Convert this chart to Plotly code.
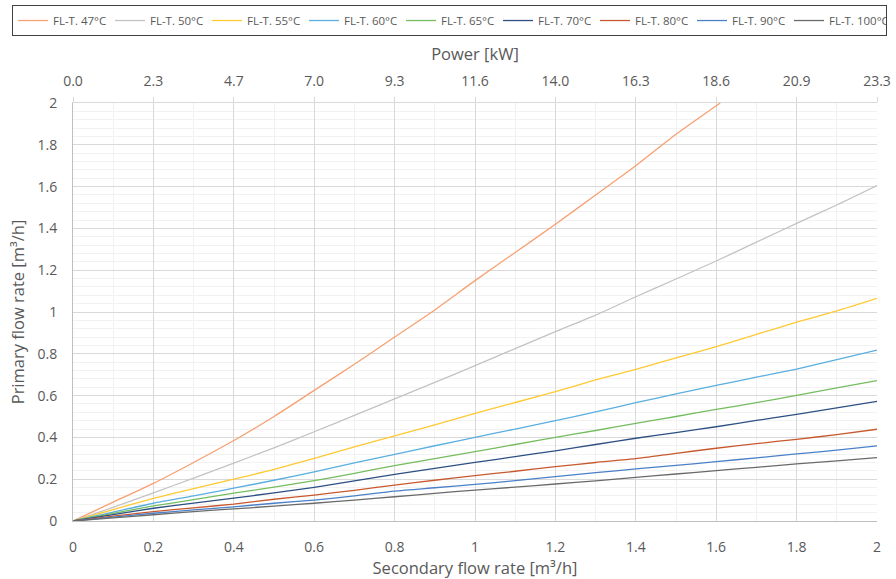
import plotly.graph_objects as go

# secondary flow rate [m3/h]
flow = [0.0, 0.1, 0.2, 0.3, 0.4, 0.5, 0.6, 0.7, 0.8, 0.9, 1.0,
        1.1, 1.2, 1.3, 1.4, 1.5, 1.6, 1.7, 1.8, 1.9, 2.0]

# primary flow rate [m3/h] per flow temperature
t47_x = [0.0, 0.1, 0.2, 0.3, 0.4, 0.5, 0.6, 0.7, 0.8, 0.9, 1.0,
         1.1, 1.2, 1.3, 1.4, 1.5, 1.61]
t47 = [0, 0.09, 0.18, 0.28, 0.385, 0.50, 0.625, 0.75, 0.88, 1.01, 1.15,
       1.285, 1.42, 1.56, 1.70, 1.85, 2.0]
t50 = [0, 0.065, 0.135, 0.205, 0.277, 0.35, 0.427, 0.505, 0.584, 0.663, 0.743,
       0.825, 0.906, 0.985, 1.073, 1.158, 1.244, 1.334, 1.424, 1.512, 1.605]
t55 = [0, 0.055, 0.108, 0.155, 0.2, 0.247, 0.30, 0.355, 0.407, 0.46, 0.515,
       0.567, 0.619, 0.675, 0.726, 0.78, 0.834, 0.893, 0.951, 1.005, 1.065]
t60 = [0, 0.043, 0.085, 0.12, 0.157, 0.195, 0.235, 0.278, 0.319, 0.36, 0.40,
       0.44, 0.48, 0.522, 0.566, 0.608, 0.649, 0.688, 0.727, 0.772, 0.818]
t65 = [0, 0.037, 0.072, 0.102, 0.133, 0.162, 0.193, 0.228, 0.265, 0.298, 0.332,
       0.366, 0.40, 0.433, 0.467, 0.50, 0.534, 0.566, 0.601, 0.637, 0.672]
t70 = [0, 0.031, 0.061, 0.086, 0.109, 0.135, 0.161, 0.192, 0.223, 0.252, 0.28,
       0.308, 0.336, 0.366, 0.396, 0.423, 0.451, 0.481, 0.51, 0.541, 0.572]
t80 = [0, 0.023, 0.045, 0.063, 0.081, 0.104, 0.124, 0.147, 0.172, 0.195, 0.217,
       0.238, 0.26, 0.28, 0.298, 0.324, 0.348, 0.37, 0.391, 0.413, 0.439]
t90 = [0, 0.019, 0.037, 0.053, 0.068, 0.085, 0.10, 0.12, 0.143, 0.159, 0.175,
       0.193, 0.212, 0.231, 0.249, 0.266, 0.284, 0.302, 0.321, 0.339, 0.359]
t100 = [0, 0.015, 0.03, 0.045, 0.058, 0.071, 0.085, 0.1, 0.116, 0.132, 0.148,
        0.162, 0.177, 0.192, 0.209, 0.225, 0.241, 0.257, 0.273, 0.288, 0.303]

x_ticks = [0, 0.2, 0.4, 0.6, 0.8, 1.0, 1.2, 1.4, 1.6, 1.8, 2.0]
x_labels = ["0", "0.2", "0.4", "0.6", "0.8", "1", "1.2", "1.4", "1.6", "1.8", "2"]
power_labels = ["0.0", "2.3", "4.7", "7.0", "9.3", "11.6", "14.0", "16.3", "18.6", "20.9", "23.3"]
y_ticks = [0, 0.2, 0.4, 0.6, 0.8, 1.0, 1.2, 1.4, 1.6, 1.8, 2.0]
y_labels = ["0", "0.2", "0.4", "0.6", "0.8", "1", "1.2", "1.4", "1.6", "1.8", "2"]

series = [
    ("FL-T. 47°C", t47_x, t47, "#F7A072"),
    ("FL-T. 50°C", flow, t50, "#C3C3C3"),
    ("FL-T. 55°C", flow, t55, "#FFC932"),
    ("FL-T. 60°C", flow, t60, "#5AAEE0"),
    ("FL-T. 65°C", flow, t65, "#74BD5E"),
    ("FL-T. 70°C", flow, t70, "#2D4F82"),
    ("FL-T. 80°C", flow, t80, "#C8592E"),
    ("FL-T. 90°C", flow, t90, "#4A80C8"),
    ("FL-T. 100°C", flow, t100, "#6A6A6A"),
]

fig = go.Figure()
for name, xs, ys, color in series:
    fig.add_trace(go.Scatter(x=xs, y=ys, name=name, mode="lines",
                             line=dict(color=color, width=1.3, shape="spline", smoothing=0.6)))

# invisible trace so the top (power) axis is drawn
fig.add_trace(go.Scatter(x=[0, 2], y=[0, 0], xaxis="x2", mode="lines",
                         line=dict(width=0), showlegend=False, hoverinfo="skip"))

grid_major = "#D9D9D9"
grid_minor = "#F2F2F2"
tick_font = dict(family="Open Sans, sans-serif", size=14, color="#595959")
title_font = dict(family="Open Sans, sans-serif", size=16.5, color="#595959")

fig.update_layout(
    width=896, height=579,
    margin=dict(l=73, r=19, t=103, b=58, autoexpand=False),
    paper_bgcolor="white", plot_bgcolor="white",
    font=dict(family="Open Sans, sans-serif", color="#595959"),
    xaxis=dict(range=[0, 2], tickvals=x_ticks, ticktext=x_labels, automargin=False,
               showgrid=True, gridcolor=grid_major, gridwidth=1,
               minor=dict(dtick=0.1, tick0=0, showgrid=True, gridcolor=grid_minor),
               showline=True, linecolor="#BFBFBF", zeroline=False,
               ticks="", tickfont=tick_font, ticklabelstandoff=13,
               title=dict(text="Secondary flow rate [m³/h]", font=title_font, standoff=8)),
    xaxis2=dict(range=[0, 2], overlaying="x", side="top", anchor="y", automargin=False,
                tickvals=x_ticks, ticktext=power_labels, showgrid=False,
                showline=True, linecolor="#D9D9D9", ticks="outside", ticklen=5,
                tickcolor="#D9D9D9", tickfont=tick_font, zeroline=False,
                ticklabelstandoff=5,
                title=dict(text="Power [kW]", font=title_font, standoff=6)),
    yaxis=dict(range=[0, 2], tickvals=y_ticks, ticktext=y_labels, automargin=False,
               showgrid=True, gridcolor=grid_major, gridwidth=1,
               minor=dict(dtick=0.04, tick0=0, showgrid=True, gridcolor=grid_minor),
               showline=True, linecolor="#BFBFBF", zeroline=False,
               ticks="", tickfont=tick_font, ticklabelstandoff=12,
               title=dict(text="Primary flow rate [m³/h]", font=title_font, standoff=8)),
    legend=dict(orientation="h", xref="paper", yref="paper",
                x=-0.0759, y=1.2344, xanchor="left", yanchor="top",
                bordercolor="#404040", borderwidth=1,
                entrywidth=52, entrywidthmode="pixels", itemwidth=30,
                font=dict(family="Open Sans, sans-serif", size=11.5, color="#595959"),
                tracegroupgap=0),
    showlegend=True,
)

fig.write_html("out.html", config={"displayModeBar": False},
               post_script="document.body.style.margin='0';")
